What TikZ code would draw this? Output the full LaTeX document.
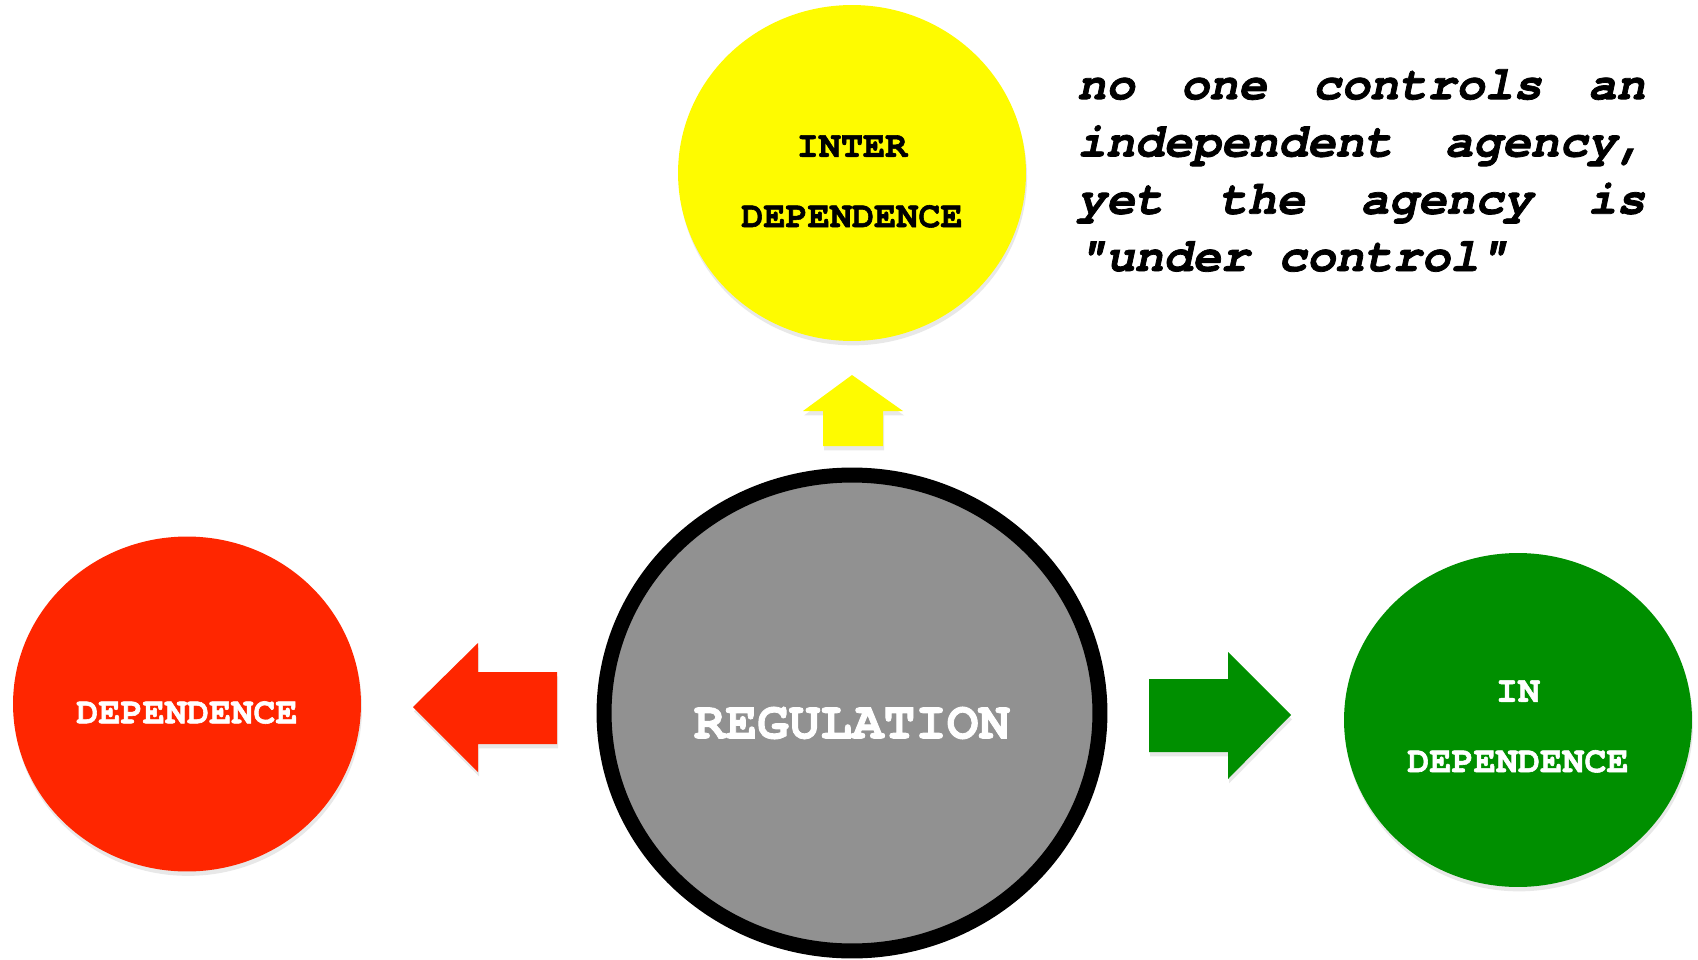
\documentclass[tikz,border=0pt]{standalone}
\usepackage{fontspec}
\usepackage{tikz}
\usepackage{xcolor}
\usetikzlibrary{shapes.geometric,shadows,positioning}
\newfontfamily\monofam[BoldFeatures={FakeBold=1.6}, BoldItalicFeatures={FakeBold=1.6}]{TeX Gyre Cursor}
\definecolor{bubyellow}{HTML}{FEFB00}
\definecolor{bubred}{HTML}{FF2600}
\definecolor{bubgreen}{HTML}{008F00}
\definecolor{bubgray}{HTML}{919191}
\tikzset{
  softshadow/.style={drop shadow={shadow xshift=0.6pt, shadow yshift=-2.5pt, opacity=0.18}},
  bubble/.style={ellipse, inner sep=0pt, minimum width=6.96cm, minimum height=6.72cm, softshadow},
  bubtext/.style={font=\monofam\bfseries\fontsize{21}{40}\selectfont, align=center, inner sep=0pt},
  note/.style={font={\monofam\bfseries\itshape\fontsize{27.2}{32.6}\selectfont\spaceskip=0.6em plus 2em minus 0.05em},
    text width=11.36cm, align=justify, inner sep=0pt}
}

\begin{document}
\begin{tikzpicture}[x=0.02cm, y=-0.02cm]
  \useasboundingbox (0,0) rectangle (1698,960);

  % centre: regulation
  \node[ellipse, draw=black, line width=0.3cm, fill=bubgray, inner sep=0pt,
        minimum width=9.92cm, minimum height=9.52cm] (reg) at (852,713) {};
  \node[font=\monofam\bfseries\fontsize{30}{36}\selectfont, white, inner sep=0pt]
        (regtxt) at ([yshift=-0.2cm]reg.center) {REGULATION};

  % three outcomes
  \node[bubble, fill=bubyellow] (inter) at (852,173) {};
  \node[bubtext, black] (intertxt) at ([yshift=-0.17cm]inter.center) {INTER\\DEPENDENCE};

  \node[bubble, fill=bubred, minimum height=6.7cm] (dep) at (187,704) {};
  \node[bubtext, white] (deptxt) at ([yshift=-0.17cm]dep.center) {DEPENDENCE};

  \node[bubble, fill=bubgreen, minimum height=6.68cm] (indep) at (1518,720) {};
  \node[bubtext, white] (indeptxt) at ([yshift=-0.13cm]indep.center) {IN\\DEPENDENCE};

  % arrows
  \fill[bubyellow, softshadow] (852,375) -- (903,411) -- (883,411) -- (883,446)
    -- (823,446) -- (823,411) -- (803,411) -- cycle;
  \fill[bubred, softshadow] (413,707) -- (478,643) -- (478,672) -- (557,672)
    -- (557,744) -- (478,744) -- (478,772) -- cycle;
  \fill[bubgreen, softshadow] (1291,715) -- (1228,652) -- (1228,679) -- (1149,679)
    -- (1149,752) -- (1228,752) -- (1228,779) -- cycle;

  % remark
  \node[note, anchor=north west] (remark) at (1077,69)
    {no one controls an independent agency, yet the agency is "under control"};
\end{tikzpicture}
\end{document}
